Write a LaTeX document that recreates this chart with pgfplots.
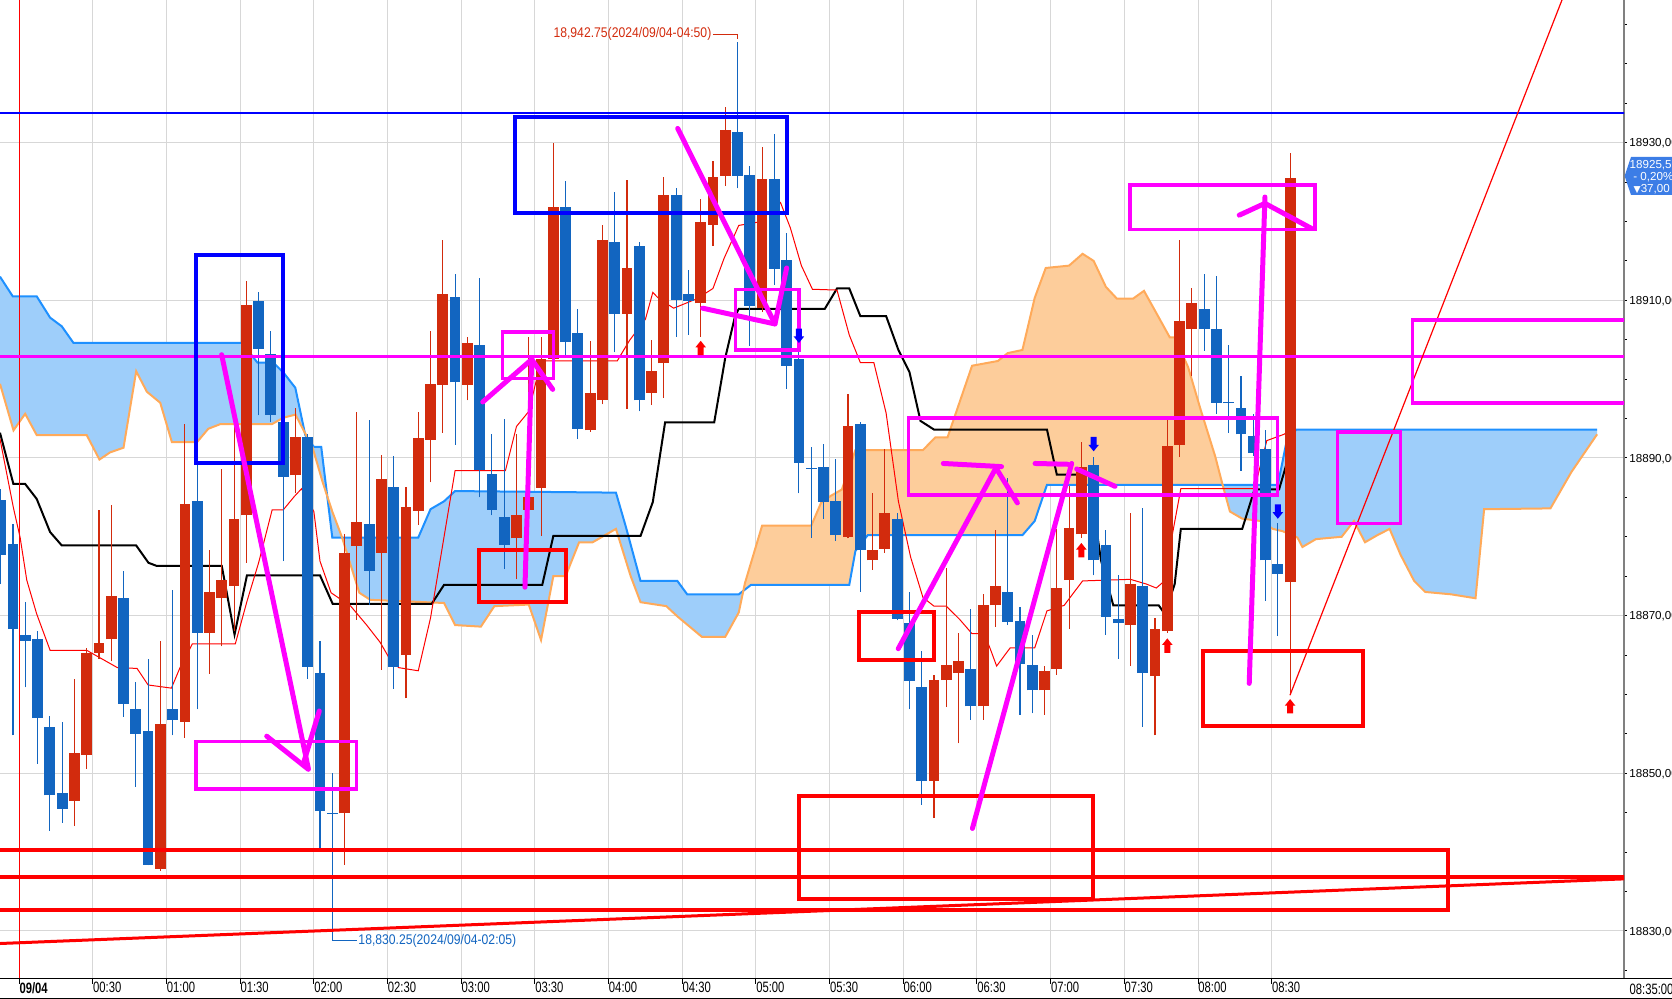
\documentclass[border=0pt]{standalone}
\usepackage{pgfplots}
\pgfplotsset{compat=1.18}
\usepackage{pgfplotstable}
\usepgfplotslibrary{fillbetween}
\usepackage{fontspec}
\setmainfont{Liberation Sans}
\newfontfamily\narrowfont[FakeStretch=0.75]{Liberation Sans}
\newfontfamily\annofont[FakeStretch=0.87]{Liberation Sans}
\newfontfamily\symfont{DejaVu Sans}

\definecolor{cup}{RGB}{210,43,13}
\definecolor{cdn}{RGB}{18,101,192}
\definecolor{cloudb}{RGB}{158,206,250}
\definecolor{cloudo}{RGB}{253,205,155}
\definecolor{spana}{RGB}{30,144,255}
\definecolor{spanb}{RGB}{255,170,90}
\definecolor{gridc}{RGB}{215,215,215}
\definecolor{pricebox}{RGB}{60,125,230}
\definecolor{mag}{RGB}{255,0,255}
\definecolor{pblue}{RGB}{0,0,255}
\definecolor{pred}{RGB}{255,0,0}

% signal arrows
\pgfdeclareplotmark{uparr}{%
  \pgfpathmoveto{\pgfqpoint{0pt}{3.6pt}}%
  \pgfpathlineto{\pgfqpoint{2.65pt}{0.3pt}}%
  \pgfpathlineto{\pgfqpoint{1.5pt}{0.3pt}}%
  \pgfpathlineto{\pgfqpoint{1.5pt}{-3.6pt}}%
  \pgfpathlineto{\pgfqpoint{-1.5pt}{-3.6pt}}%
  \pgfpathlineto{\pgfqpoint{-1.5pt}{0.3pt}}%
  \pgfpathlineto{\pgfqpoint{-2.65pt}{0.3pt}}%
  \pgfpathclose\pgfusepathqfill}
\pgfdeclareplotmark{dnarr}{%
  \pgfpathmoveto{\pgfqpoint{0pt}{-3.6pt}}%
  \pgfpathlineto{\pgfqpoint{2.65pt}{-0.3pt}}%
  \pgfpathlineto{\pgfqpoint{1.5pt}{-0.3pt}}%
  \pgfpathlineto{\pgfqpoint{1.5pt}{3.6pt}}%
  \pgfpathlineto{\pgfqpoint{-1.5pt}{3.6pt}}%
  \pgfpathlineto{\pgfqpoint{-1.5pt}{-0.3pt}}%
  \pgfpathlineto{\pgfqpoint{-2.65pt}{-0.3pt}}%
  \pgfpathclose\pgfusepathqfill}

% 5-minute bars, k = bar number after 00:00
\pgfplotstableread{
k o h l c
4 18846.5 18861.9 18843.3 18852.6
5 18852.3 18865.9 18850.6 18865.3
6 18865.3 18883.4 18864.5 18866.5
7 18867.0 18884.0 18864.2 18872.5
11 18837.9 18866.8 18837.6 18856.2
13 18856.5 18894.3 18854.5 18884.2
15 18867.8 18878.3 18862.6 18873.0
16 18872.2 18888.6 18866.1 18874.5
17 18873.8 18894.3 18868.0 18882.2
18 18882.7 18912.5 18876.7 18909.4
22 18887.8 18896.3 18885.6 18892.7
26 18844.9 18880.3 18838.4 18878.0
27 18878.8 18895.8 18869.5 18881.9
29 18878.0 18890.4 18863.1 18887.3
31 18865.0 18886.3 18859.5 18883.8
32 18883.3 18895.8 18881.5 18892.5
33 18892.3 18906.1 18886.9 18899.4
34 18899.3 18917.6 18893.2 18910.8
36 18899.3 18905.4 18897.3 18904.6
40 18879.8 18893.0 18874.6 18882.8
41 18883.4 18905.4 18880.0 18885.0
42 18886.2 18905.4 18880.1 18902.6
43 18902.5 18930.0 18901.8 18921.8
46 18893.5 18904.9 18893.3 18898.3
47 18897.3 18919.6 18896.8 18917.6
49 18908.3 18925.3 18896.2 18914.1
51 18898.3 18905.0 18896.7 18901.0
52 18902.0 18925.6 18897.6 18923.3
55 18909.6 18922.9 18905.4 18919.9
56 18919.6 18927.7 18916.9 18925.7
57 18925.8 18934.5 18924.5 18931.6
60 18909.0 18929.4 18908.5 18925.4
67 18880.0 18898.1 18879.8 18894.0
69 18877.0 18885.6 18875.8 18878.3
70 18878.5 18891.1 18878.0 18883.0
74 18849.0 18862.5 18844.3 18861.8
75 18861.8 18876.0 18858.4 18863.7
76 18862.7 18867.8 18853.8 18864.3
78 18858.5 18872.8 18856.8 18871.3
79 18871.3 18880.9 18868.6 18873.8
83 18860.5 18863.6 18857.4 18863.0
84 18863.2 18881.0 18862.5 18873.5
85 18874.5 18886.4 18868.3 18881.1
86 18880.3 18892.0 18879.9 18888.8
90 18868.8 18883.0 18863.6 18874.0
92 18862.4 18869.7 18854.8 18868.3
93 18868.0 18894.9 18867.8 18891.5
94 18891.7 18917.7 18890.1 18907.4
95 18906.3 18911.6 18900.4 18909.7
103 18874.2 18928.7 18859.9 18925.5
}\upbars

\pgfplotstableread{
k o h l c
-2 18884.7 18886.0 18874.0 18877.7
-1 18879.1 18881.6 18854.8 18868.3
0 18867.5 18871.7 18860.9 18866.8
1 18867.0 18868.1 18851.2 18857.0
2 18855.9 18857.3 18842.7 18847.2
3 18847.5 18856.5 18843.7 18845.5
8 18872.2 18875.7 18857.2 18858.8
9 18858.1 18861.6 18848.3 18855.0
10 18855.3 18864.5 18838.3 18838.4
12 18858.1 18873.2 18854.8 18856.7
14 18884.5 18889.7 18858.1 18867.8
19 18909.9 18911.1 18895.4 18903.8
20 18903.2 18906.1 18894.5 18895.5
21 18894.5 18895.0 18876.9 18887.6
23 18892.7 18893.0 18862.0 18863.5
24 18862.7 18866.8 18840.3 18845.2
25 18845.0 18850.0 18830.25 18844.85
28 18881.6 18894.8 18871.4 18875.7
30 18886.3 18890.2 18860.7 18863.5
35 18910.4 18913.3 18891.7 18899.6
37 18904.3 18912.8 18885.0 18888.5
38 18888.0 18893.0 18882.7 18883.4
39 18882.5 18894.9 18875.9 18879.0
44 18921.8 18925.1 18903.1 18904.7
45 18905.9 18908.9 18892.4 18893.7
48 18917.4 18923.8 18903.4 18908.3
50 18916.9 18917.4 18895.9 18897.3
53 18923.3 18924.3 18905.4 18910.1
54 18910.8 18913.9 18905.6 18909.9
58 18931.3 18942.75 18924.2 18925.8
59 18925.9 18927.0 18904.2 18909.3
61 18925.4 18931.1 18912.0 18914.0
62 18915.1 18918.5 18898.8 18901.7
63 18902.6 18903.5 18885.5 18889.4
64 18888.75 18891.4 18879.9 18888.6
65 18888.9 18891.8 18882.3 18884.4
66 18884.5 18889.9 18879.5 18880.2
68 18894.3 18894.6 18873.0 18878.3
71 18882.2 18883.0 18869.4 18869.6
72 18869.0 18873.0 18858.1 18861.7
73 18861.0 18865.5 18846.0 18849.0
77 18863.2 18870.9 18856.8 18858.5
80 18873.0 18887.5 18868.8 18869.2
81 18869.3 18871.1 18857.4 18863.9
82 18863.7 18867.6 18857.6 18860.5
87 18889.1 18890.1 18875.1 18877.0
88 18878.9 18880.9 18867.6 18869.8
89 18869.6 18875.1 18864.5 18869.0
91 18873.8 18883.6 18855.9 18862.7
96 18908.9 18913.3 18903.6 18906.3
97 18906.4 18913.1 18895.6 18897.0
98 18897.1 18904.3 18893.2 18896.95
99 18896.4 18900.4 18888.4 18893.0
100 18892.8 18895.6 18890.2 18890.6
101 18891.1 18893.5 18871.9 18877.0
102 18876.5 18881.7 18867.4 18875.3
}\dnbars

% ichimoku leading spans (shifted 26 bars ahead)
\pgfplotstableread{
k v
-2.06 18913.0
-1.02 18910.5
0.93 18910.5
2.02 18907.8
2.97 18906.7
3.92 18904.6
17.65 18904.6
18.9 18902.1
20.2 18902.1
21.04 18900.8
21.99 18898.9
22.8 18892.9
23.5 18891.4
24.1 18891.4
25.0 18879.9
32.0 18879.9
33.0 18883.5
34.1 18884.5
35.0 18885.8
48.1 18885.6
48.9 18881.3
50.1 18874.4
53.1 18874.4
53.9 18872.7
58.1 18872.7
59.1 18873.9
67.1 18873.9
67.6 18878.2
68.6 18880.2
81.2 18880.2
82.2 18882.0
83.2 18886.6
102.0 18886.6
102.7 18892.0
103.5 18893.6
128.0 18893.6
}\spanA

\pgfplotstableread{
k v
-2.06 18899.4
-0.96 18893.5
-0.01 18895.6
0.93 18892.9
5.0 18892.9
6.04 18889.8
6.9 18890.7
8.0 18891.3
9.03 18901.0
9.9 18898.4
10.99 18897.0
11.94 18892.0
13.98 18892.0
14.9 18893.7
15.9 18894.3
20.1 18894.3
21.0 18895.1
22.0 18895.5
22.5 18894.0
23.4 18891.3
24.2 18887.0
25.0 18883.2
25.8 18879.9
27.2 18872.9
28.1 18872.0
34.1 18871.6
35.0 18868.8
37.1 18868.6
38.2 18871.2
41.0 18871.4
42.0 18866.9
43.0 18875.0
44.0 18875.0
45.1 18879.3
46.2 18879.3
48.1 18881.0
49.3 18875.0
50.1 18871.7
52.2 18871.2
53.1 18869.9
55.1 18867.3
57.0 18867.3
58.1 18870.4
58.6 18874.1
60.0 18881.4
64.0 18881.4
64.8 18884.3
65.6 18885.2
66.5 18886.0
67.6 18891.0
73.1 18891.0
74.1 18892.6
75.1 18892.6
77.1 18901.7
79.2 18902.3
80.0 18903.3
81.2 18903.7
82.2 18910.3
83.1 18914.1
85.0 18914.4
86.1 18915.9
87.0 18915.0
88.0 18911.7
88.9 18910.2
90.2 18910.2
91.1 18911.2
92.1 18908.4
93.2 18905.3
93.6 18905.3
94.7 18901.5
95.7 18896.2
96.9 18890.2
97.5 18886.6
98.1 18883.2
99.1 18882.3
100.6 18882.0
101.6 18881.0
102.4 18880.7
103.6 18879.9
104.0 18878.7
105.1 18879.7
107.2 18880.0
108.2 18882.0
109.1 18879.3
110.1 18880.2
111.1 18881.0
112.0 18877.7
113.1 18874.4
114.0 18873.0
116.1 18872.7
118.1 18872.2
118.8 18883.5
124.2 18883.6
125.9 18888.2
128.0 18893.0
}\spanB

\begin{document}
\begin{tikzpicture}
\begin{axis}[
  at={(0pt,10pt)}, anchor=south west,
  width=812pt, height=489.5pt, scale only axis,
  xmin=-2.06, xmax=130.19, ymin=18823.9, ymax=18948.1,
  axis x line*=bottom, axis y line*=right,
  x axis line style={black, line width=0.5pt},
  y axis line style={gray, line width=1pt},
  xtick={-0.5,5.5,...,101.5},
  xticklabels={\textbf{09/04},00:30,01:00,01:30,02:00,02:30,03:00,03:30,04:00,04:30,05:00,05:30,06:00,06:30,07:00,07:30,08:00,08:30},
  ytick={18830,18850,...,18930},
  minor ytick={18825,18830,...,18945},
  scaled y ticks=false,
  tick align=outside,
  xtick style={black, line width=0.5pt, /pgfplots/major tick length=2.4pt},
  ytick style={black, line width=0.5pt},
  major tick length=1.4pt, minor tick length=1.4pt,
  xmajorgrids, ymajorgrids,
  grid style={gridc, line width=0.5pt},
  yticklabel pos=right,
  xticklabel style={font=\narrowfont\fontsize{7.5}{8}\selectfont, anchor=north west, inner sep=0pt},
  yticklabel style={font=\fontsize{5.8}{6}\selectfont, anchor=base west, inner sep=0pt, xshift=1.1pt, yshift=-2.08pt,
    /pgf/number format/fixed, /pgf/number format/fixed zerofill, /pgf/number format/precision=2,
    /pgf/number format/use comma, /pgf/number format/1000 sep={}, /pgf/number format/assume math mode=true},
  wick/.style={draw=none, forget plot, error bars/.cd, y dir=plus, y explicit, error mark=none,
    error bar style={draw=#1, line width=0.55pt}},
  body/.style={draw=none, forget plot, error bars/.cd, y dir=plus, y explicit, error mark=none,
    error bar style={draw=#1, line width=5.4pt}},
]
% cloud
\addplot[draw=none, name path=A, forget plot] table[x=k,y=v]{\spanA};
\addplot[draw=none, name path=B, forget plot] table[x=k,y=v]{\spanB};
\addplot[fill=cloudb, draw=none] fill between[of=A and B, soft clip={domain=-3:58.45}];
\addplot[fill=cloudo, draw=none] fill between[of=A and B, soft clip={domain=58.45:97.5}];
\addplot[fill=cloudb, draw=none] fill between[of=A and B, soft clip={domain=97.5:131}];
\addplot[spana, line width=1pt] table[x=k,y=v]{\spanA};
\addplot[spanb, line width=1pt] table[x=k,y=v]{\spanB};
% base line
\addplot[black, line width=1pt] coordinates {
(-2.06,18893.2) (-0.97,18886.7) (-0.01,18886.7) (0.93,18884.8) (2.02,18880.6) (2.97,18878.9)
(9.03,18878.9) (10.03,18876.7) (10.71,18876.3) (16.0,18876.3) (17.04,18867.6) (18.05,18875.1)
(24.0,18875.1) (25.03,18871.5) (33.1,18871.5) (34.1,18873.9) (42.1,18873.9) (43.0,18880.1)
(50.1,18880.1) (51.1,18884.4) (52.1,18894.5) (56.1,18894.5) (57.0,18902.7) (57.8,18908.0)
(58.1,18908.9) (65.1,18908.9) (66.1,18911.5) (67.1,18911.5) (68.0,18908.0) (70.1,18908.0)
(71.1,18903.7) (72.0,18900.9) (72.9,18894.7) (74.0,18893.6) (83.2,18893.6) (84.0,18887.9)
(86.6,18887.9) (87.6,18877.0) (88.6,18871.3) (92.3,18871.3) (92.8,18870.2) (93.6,18874.0)
(94.1,18881.0) (99.1,18881.0) (100.1,18886.0) (102.1,18886.0) (102.7,18889.2) (103.0,18890.0)};
% conversion line
\addplot[pred, line width=0.5pt] coordinates {
(-2.06,18892.4) (-0.97,18883.7) (-0.42,18879.9) (0.12,18874.5) (0.93,18870.2) (2.02,18865.6)
(5.0,18865.6) (7.5,18863.4) (9.1,18863.3) (10.0,18861.2) (11.9,18860.8) (12.6,18863.4)
(13.6,18866.4) (17.1,18866.4) (18.05,18871.8) (19.0,18876.7) (20.1,18883.4) (21.0,18883.4)
(21.9,18885.1) (22.5,18886.1) (23.5,18883.2) (24.0,18876.9) (24.9,18872.9) (26.5,18871.2)
(27.8,18868.8) (28.9,18866.6) (29.6,18864.7) (30.4,18863.4) (32.0,18863.0) (33.0,18869.7)
(35.0,18888.4) (39.1,18888.4) (40.0,18894.0) (41.0,18895.9) (42.0,18902.3) (48.2,18902.3)
(49.2,18904.9) (50.5,18907.6) (51.1,18911.0) (51.6,18910.2) (52.8,18909.0) (54.7,18910.2)
(56.0,18911.5) (56.9,18915.3) (58.1,18919.5) (59.6,18919.9) (61.5,18922.4) (62.3,18919.2)
(63.2,18914.4) (64.1,18911.4) (66.1,18911.3) (67.1,18905.6) (68.0,18902.1) (69.1,18902.1)
(70.1,18895.7) (71.1,18884.5) (72.1,18877.4) (73.1,18872.3) (74.0,18871.2) (75.0,18871.2)
(76.1,18869.5) (77.1,18867.7) (78.1,18867.7) (78.6,18865.7) (79.1,18863.6) (80.2,18865.9)
(82.2,18865.9) (83.2,18870.6) (84.6,18871.3) (86.1,18874.4) (90.0,18874.6) (91.3,18874.0)
(92.1,18873.5) (92.7,18874.3) (94.1,18886.1) (100.1,18886.1) (101.1,18892.2) (102.5,18893.0)
(103.0,18893.5)};
% day separator
\draw[pred, line width=0.5pt] (axis cs:-0.5,18820) -- (axis cs:-0.5,18950);
% candles
\addplot[wick=cup] table[x=k, y=l, y error plus expr=\thisrow{h}-\thisrow{l}] {\upbars};
\addplot[body=cup] table[x=k, y=o, y error plus expr=\thisrow{c}-\thisrow{o}] {\upbars};
\addplot[wick=cdn] table[x=k, y=l, y error plus expr=\thisrow{h}-\thisrow{l}] {\dnbars};
\addplot[body=cdn] table[x=k, y=c, y error plus expr=\thisrow{o}-\thisrow{c}] {\dnbars};
% signals
\addplot[only marks, mark=uparr, color=pred, forget plot] coordinates {(55,18903.95) (86,18878.3) (93,18866.2) (103,18858.5)};
\addplot[only marks, mark=dnarr, color=pblue, forget plot] coordinates {(63,18905.5) (87,18891.75) (102,18883.2)};
% high / low marks
\draw[cup, line width=0.5pt] (axis cs:56.0,18943.75) -- (axis cs:58,18943.75) -- (axis cs:58,18943.1);
\node[cup, anchor=east, inner sep=0pt, font=\annofont\fontsize{7}{8}\selectfont] at (axis cs:55.9,18943.75) {18,942.75(2024/09/04-04:50)};
\draw[cdn, line width=0.5pt] (axis cs:25,18830.25) -- (axis cs:25,18828.77) -- (axis cs:27.0,18828.77);
\node[cdn, anchor=west, inner sep=0pt, font=\annofont\fontsize{7}{8}\selectfont] at (axis cs:27.1,18828.77) {18,830.25(2024/09/04-02:05)};
% drawn levels and boxes
\draw[pblue, line width=1.2pt] (axis cs:-3,18933.75) -- (axis cs:131,18933.75);
\draw[mag, line width=1.35pt] (axis cs:-3,18902.9) -- (axis cs:131,18902.9);
\draw[pred, line width=2pt] (axis cs:-3,18840.3) rectangle (axis cs:115.86,18832.7);
\draw[pred, line width=2pt] (axis cs:-3,18836.9) -- (axis cs:131,18836.9);
\draw[pred, line width=1.5pt] (axis cs:-2.06,18828.4) -- (axis cs:130.19,18836.6);
\draw[pred, line width=0.6pt] (axis cs:102.99,18859.9) -- (axis cs:125.14,18948.1);
\draw[pblue, line width=2pt] (axis cs:13.90,18915.8) rectangle (axis cs:20.96,18889.4);
\draw[pblue, line width=2pt] (axis cs:39.88,18933.2) rectangle (axis cs:62.0,18921.1);
\draw[pred, line width=2pt] (axis cs:62.98,18847.06) rectangle (axis cs:86.95,18834.07);
\draw[pred, line width=2pt] (axis cs:67.89,18870.5) rectangle (axis cs:74.00,18864.4);
\draw[pred, line width=2pt] (axis cs:36.95,18878.3) rectangle (axis cs:44.0,18871.7);
\draw[pred, line width=2pt] (axis cs:95.93,18865.5) rectangle (axis cs:108.96,18856.0);
\draw[mag, line width=1.75pt] (axis cs:13.90,18854.0) rectangle (axis cs:26.99,18848.0);
\draw[mag, line width=1.75pt] (axis cs:38.88,18906.0) rectangle (axis cs:43.00,18900.1);
\draw[mag, line width=1.75pt] (axis cs:57.85,18911.4) rectangle (axis cs:63.0,18903.7);
\draw[mag, line width=1.75pt] (axis cs:71.91,18895.1) rectangle (axis cs:101.99,18885.3);
\draw[mag, line width=1.75pt] (axis cs:89.98,18924.6) rectangle (axis cs:105.03,18919.0);
\draw[mag, line width=1.75pt] (axis cs:112.95,18907.5) rectangle (axis cs:131,18897.0);
\draw[mag, line width=1.75pt] (axis cs:106.87,18893.3) rectangle (axis cs:112.0,18881.7);
% hand-drawn arrows
\begin{scope}[mag, line width=2.5pt, line cap=round, line join=round]
\draw (axis cs:15.99,18903.1) -- (axis cs:23.05,18850.6);
\draw (axis cs:19.66,18854.7) -- (axis cs:23.05,18850.5);
\draw (axis cs:23.94,18857.9) -- (axis cs:22.64,18851.2);
\draw (axis cs:40.69,18873.6) -- (axis cs:41.24,18902.5);
\draw (axis cs:37.25,18897.1) -- (axis cs:41.24,18902.5) -- (axis cs:42.95,18898.7);
\draw (axis cs:53.13,18931.8) -- (axis cs:61.05,18907.0);
\draw (axis cs:55.16,18909.0) -- (axis cs:61.05,18907.0) -- (axis cs:62.0,18914.1);
\draw (axis cs:71.09,18865.8) -- (axis cs:79.10,18888.9);
\draw (axis cs:74.76,18889.3) -- (axis cs:79.5,18888.9);
\draw (axis cs:79.10,18888.6) -- (axis cs:80.79,18884.3);
\draw (axis cs:77.13,18843.0) -- (axis cs:85.21,18889.3);
\draw (axis cs:82.23,18889.3) -- (axis cs:84.9,18889.2);
\draw (axis cs:85.62,18888.6) -- (axis cs:88.74,18886.4);
\draw (axis cs:99.67,18861.4) -- (axis cs:100.95,18923.1);
\draw (axis cs:98.86,18920.8) -- (axis cs:100.95,18922.3) -- (axis cs:104.76,18919.1);
\end{scope}
\end{axis}
% time bar
\draw[black, line width=0.5pt] (0pt,10pt) -- (836pt,10pt);
\draw[black, line width=0.5pt] (0pt,0.35pt) -- (836pt,0.35pt);
\node[anchor=north west, inner sep=0pt, font=\narrowfont\fontsize{7.5}{8}\selectfont] at (814.65pt,7.85pt) {08:35:00};
% current price tag
\fill[pricebox] (815.5pt,421pt) -- (836pt,421pt) -- (836pt,402pt) -- (815.5pt,402pt) -- (812.3pt,411.5pt) -- cycle;
\node[white, anchor=base west, inner sep=0pt, font=\fontsize{5.8}{6}\selectfont] at (814.65pt,415.4pt) {18925,50};
\node[white, anchor=base west, inner sep=0pt, font=\fontsize{5.8}{6}\selectfont] at (816.5pt,409.1pt) {- 0,20\%};
\node[white, anchor=base west, inner sep=0pt, font=\fontsize{5.8}{6}\selectfont] at (816.65pt,403.3pt) {{\symfont\fontsize{4.6}{5}\selectfont ▼}37,00};
\pgfresetboundingbox
\path[use as bounding box] (0pt,0pt) rectangle (836pt,499.5pt);
\end{tikzpicture}
\end{document}
